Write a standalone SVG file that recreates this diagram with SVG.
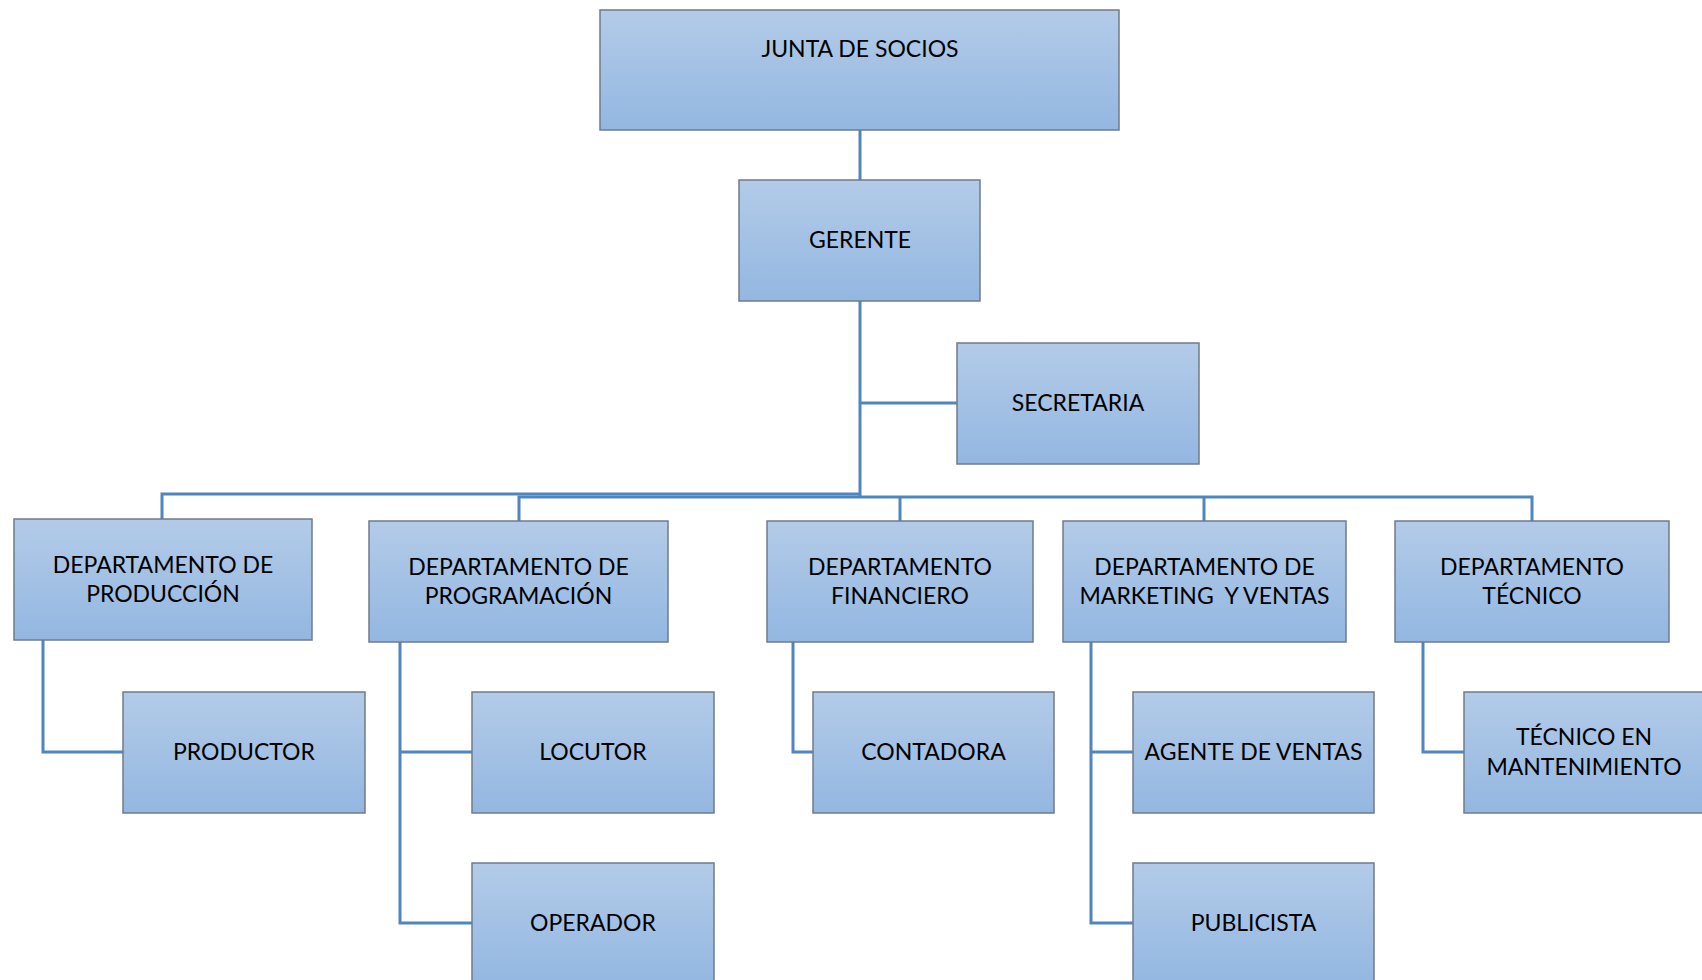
<svg xmlns="http://www.w3.org/2000/svg" width="1702" height="980" viewBox="0 0 1702 980">
<defs>
<linearGradient id="g" x1="0" y1="0" x2="0" y2="1">
<stop offset="0" stop-color="#b3cbe8"/>
<stop offset="1" stop-color="#93b7e1"/>
</linearGradient>
</defs>
<style>
.box{fill:url(#g);stroke:#6f7b8a;stroke-width:1.5}
.t{font-family:Lato,"Open Sans","Liberation Sans",sans-serif;font-size:23px;fill:#000;text-anchor:middle}
.c{fill:none;stroke:#4f86c0;stroke-width:3}
</style>
<rect width="1702" height="980" fill="#fff"/>
<g id="connectors">
<path class="c" d="M860 130V180"/>
<path class="c" d="M860 301V497"/>
<path class="c" d="M860 403H957"/>
<path class="c" d="M162 519V494H860"/>
<path class="c" d="M519 521V497H860"/>
<path class="c" d="M860 497H1532V521"/>
<path class="c" d="M900 497V521"/>
<path class="c" d="M1204 497V521"/>
<path class="c" d="M43 640V752H123"/>
<path class="c" d="M400 642V923H472"/>
<path class="c" d="M400 752H472"/>
<path class="c" d="M793 642V752H813"/>
<path class="c" d="M1091 642V923H1133"/>
<path class="c" d="M1091 752H1133"/>
<path class="c" d="M1423 642V752H1464"/>
</g>
<g id="junta"><rect class="box" x="600" y="10" width="519" height="120"/><text class="t" x="860" y="57">JUNTA DE SOCIOS</text></g>
<g id="gerente"><rect class="box" x="739" y="180" width="241" height="121"/><text class="t" x="860" y="248">GERENTE</text></g>
<g id="secretaria"><rect class="box" x="957" y="343" width="242" height="121"/><text class="t" x="1078" y="411">SECRETARIA</text></g>
<g id="produccion"><rect class="box" x="14" y="519" width="298" height="121"/><text class="t" x="163" y="573">DEPARTAMENTO DE</text><text class="t" x="163" y="602">PRODUCCIÓN</text></g>
<g id="programacion"><rect class="box" x="369" y="521" width="299" height="121"/><text class="t" x="518.5" y="575">DEPARTAMENTO DE</text><text class="t" x="518.5" y="604">PROGRAMACIÓN</text></g>
<g id="financiero"><rect class="box" x="767" y="521" width="266" height="121"/><text class="t" x="900" y="575">DEPARTAMENTO</text><text class="t" x="900" y="604">FINANCIERO</text></g>
<g id="marketing"><rect class="box" x="1063" y="521" width="283" height="121"/><text class="t" x="1204.5" y="575">DEPARTAMENTO DE</text><text class="t" x="1204.5" y="604">MARKETING&#160; Y VENTAS</text></g>
<g id="tecnico"><rect class="box" x="1395" y="521" width="274" height="121"/><text class="t" x="1532" y="575">DEPARTAMENTO</text><text class="t" x="1532" y="604">TÉCNICO</text></g>
<g id="productor"><rect class="box" x="123" y="692" width="242" height="121"/><text class="t" x="244" y="760">PRODUCTOR</text></g>
<g id="locutor"><rect class="box" x="472" y="692" width="242" height="121"/><text class="t" x="593" y="760">LOCUTOR</text></g>
<g id="operador"><rect class="box" x="472" y="863" width="242" height="121"/><text class="t" x="593" y="931">OPERADOR</text></g>
<g id="contadora"><rect class="box" x="813" y="692" width="241" height="121"/><text class="t" x="933.5" y="760">CONTADORA</text></g>
<g id="agente"><rect class="box" x="1133" y="692" width="241" height="121"/><text class="t" x="1253.5" y="760">AGENTE DE VENTAS</text></g>
<g id="publicista"><rect class="box" x="1133" y="863" width="241" height="121"/><text class="t" x="1253.5" y="931">PUBLICISTA</text></g>
<g id="mantenimiento"><rect class="box" x="1464" y="692" width="242" height="121"/><text class="t" x="1584" y="745">TÉCNICO EN</text><text class="t" x="1584" y="775">MANTENIMIENTO</text></g>
</svg>
